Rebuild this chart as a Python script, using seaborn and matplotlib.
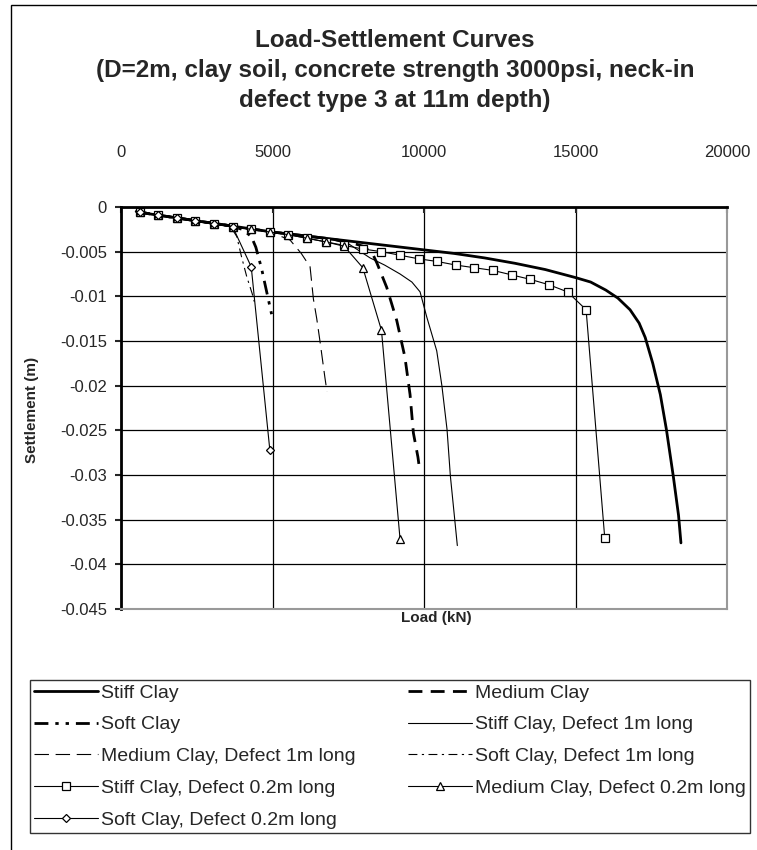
import matplotlib
matplotlib.use('Agg')
import matplotlib.pyplot as plt
import matplotlib.patches as patches
import seaborn as sns

# load steps (kN) and settlements (m)
stiff_x = [500, 1000, 2000, 3000, 4000, 5000, 6000, 7000, 8000, 9000, 10000, 11000, 12000,
           13000, 14000, 15000, 15500, 16000, 16400, 16800, 17100, 17300, 17550, 17800,
           18000, 18230, 18400, 18480]
stiff_y = [-0.0005, -0.0008, -0.0013, -0.0018, -0.0023, -0.0028, -0.0032, -0.0036, -0.0040,
           -0.0044, -0.0048, -0.0052, -0.0057, -0.0063, -0.0070, -0.0079, -0.0084, -0.0093,
           -0.0102, -0.0115, -0.0130, -0.0146, -0.0175, -0.0210, -0.0249, -0.0302, -0.0345,
           -0.0376]

medium_x = [500, 1000, 2000, 3000, 4000, 5000, 6000, 7000, 7600, 8000, 8300, 8450, 8770,
            9100, 9370, 9540, 9650, 9800, 9860]
medium_y = [-0.0005, -0.0008, -0.0013, -0.0018, -0.0023, -0.0028, -0.0032, -0.0036, -0.0040,
            -0.0044, -0.0052, -0.0063, -0.0090, -0.0127, -0.0168, -0.0210, -0.0253, -0.0280,
            -0.0295]

soft_x = [500, 1000, 2000, 3000, 3600, 4000, 4300, 4450, 4640, 4860, 4970]
soft_y = [-0.0005, -0.0008, -0.0013, -0.0018, -0.0021, -0.0025, -0.0033, -0.0045, -0.0069,
          -0.0103, -0.0120]

stiff_1m_x = [500, 1000, 2000, 3000, 4000, 5000, 6000, 7000, 7500, 8220, 8700, 9210, 9600,
              9870, 10090, 10420, 10590, 10760, 10870, 11000, 11100]
stiff_1m_y = [-0.0005, -0.0008, -0.0013, -0.0018, -0.0023, -0.0028, -0.0032, -0.0037, -0.0041,
              -0.0057, -0.0065, -0.0075, -0.0084, -0.0095, -0.0123, -0.0161, -0.0200, -0.0249,
              -0.0301, -0.0345, -0.0379]

medium_1m_x = [500, 1000, 2000, 3000, 4000, 5000, 5580, 5950, 6240, 6350, 6460, 6570, 6730, 6800]
medium_1m_y = [-0.0005, -0.0008, -0.0013, -0.0018, -0.0023, -0.0029, -0.0037, -0.0052, -0.0067,
               -0.0103, -0.0125, -0.0151, -0.0191, -0.0207]

soft_1m_x = [500, 1000, 2000, 3000, 3600, 3820, 3980, 4150, 4330, 4400]
soft_1m_y = [-0.0005, -0.0008, -0.0013, -0.0018, -0.0021, -0.0033, -0.0056, -0.0078, -0.0097,
             -0.0106]

stiff_02_x = [614, 1228, 1842, 2456, 3070, 3684, 4298, 4912, 5526, 6140, 6754, 7368, 7982,
              8596, 9210, 9824, 10438, 11052, 11666, 12280, 12894, 13508, 14122, 14736,
              15350, 15964]
stiff_02_y = [-0.0006, -0.0009, -0.0012, -0.0016, -0.0019, -0.0022, -0.0025, -0.0028, -0.0031,
              -0.0035, -0.0039, -0.0043, -0.0047, -0.0050, -0.0054, -0.0058, -0.0061, -0.0065,
              -0.0068, -0.0071, -0.0076, -0.0081, -0.0087, -0.0095, -0.0115, -0.0370]

medium_02_x = [614, 1228, 1842, 2456, 3070, 3684, 4298, 4912, 5526, 6140, 6754, 7368, 7982,
               8596, 9210]
medium_02_y = [-0.0006, -0.0009, -0.0012, -0.0016, -0.0019, -0.0022, -0.0025, -0.0028, -0.0031,
               -0.0035, -0.0039, -0.0044, -0.0068, -0.0138, -0.0372]

soft_02_x = [614, 1228, 1842, 2456, 3070, 3684, 4298, 4912]
soft_02_y = [-0.0006, -0.0009, -0.0012, -0.0016, -0.0019, -0.0022, -0.0067, -0.0272]

x_ticks = [0, 5000, 10000, 15000, 20000]
y_ticks = [0, -0.005, -0.01, -0.015, -0.02, -0.025, -0.03, -0.035, -0.04, -0.045]
y_labels = ['0', '-0.005', '-0.01', '-0.015', '-0.02', '-0.025', '-0.03', '-0.035', '-0.04', '-0.045']

title = ('Load-Settlement Curves\n(D=2m, clay soil, concrete strength 3000psi, neck-in\n'
         'defect type 3 at 11m depth)')

sns.set_style('white')
plt.rcParams['font.family'] = ['Liberation Sans', 'DejaVu Sans']

fig = plt.figure(figsize=(7.57, 8.5), dpi=100)
ax = fig.add_axes([121 / 757, 1 - 609 / 850, 606 / 757, 402 / 850])

series = [
    ('Stiff Clay', stiff_x, stiff_y, dict(lw=2.0, linestyle='-')),
    ('Medium Clay', medium_x, medium_y, dict(lw=2.0, linestyle=(0, (5, 3)))),
    ('Soft Clay', soft_x, soft_y, dict(lw=2.0, linestyle=(0, (5, 2.5, 1.2, 2.5, 1.2, 2.5)))),
    ('Stiff Clay, Defect 1m long', stiff_1m_x, stiff_1m_y, dict(lw=0.8, linestyle='-')),
    ('Medium Clay, Defect 1m long', medium_1m_x, medium_1m_y, dict(lw=0.8, linestyle=(0, (13, 6)))),
    ('Soft Clay, Defect 1m long', soft_1m_x, soft_1m_y, dict(lw=0.8, linestyle=(0, (8, 4, 2, 4)))),
    ('Stiff Clay, Defect 0.2m long', stiff_02_x, stiff_02_y,
     dict(lw=0.8, linestyle='-', marker='s', markersize=5.5)),
    ('Medium Clay, Defect 0.2m long', medium_02_x, medium_02_y,
     dict(lw=0.8, linestyle='-', marker='^', markersize=6)),
    ('Soft Clay, Defect 0.2m long', soft_02_x, soft_02_y,
     dict(lw=0.8, linestyle='-', marker='D', markersize=4.5)),
]

handles = {}
for name, xs, ys, style in series:
    n_before = len(ax.lines)
    sns.lineplot(x=xs, y=ys, ax=ax, sort=False, estimator=None, color='black',
                 markerfacecolor='white', markeredgecolor='black', markeredgewidth=0.9,
                 label=name, **style)
    handles[name] = ax.lines[n_before]

ax.set_xlim(0, 20000)
ax.set_ylim(-0.045, 0)
ax.set_xticks(x_ticks)
ax.set_xticklabels([str(v) for v in x_ticks])
ax.set_yticks(y_ticks)
ax.set_yticklabels(y_labels)
ax.xaxis.tick_top()
ax.tick_params(axis='x', which='both', top=True, bottom=False, direction='in', length=4,
               width=1.5, pad=34, labelsize=12)
ax.tick_params(axis='y', left=True, direction='out', length=4, width=1.5, pad=6, labelsize=12)
ax.grid(True, color='black', lw=0.9)
ax.set_axisbelow(True)

for side in ['left', 'top']:
    ax.spines[side].set_color('black')
    ax.spines[side].set_linewidth(2.0)
for side in ['right', 'bottom']:
    ax.spines[side].set_color('#999999')
    ax.spines[side].set_linewidth(1.5)

ax.set_xlabel('Load (kN)', fontsize=11, fontweight='bold')
ax.xaxis.set_label_position('bottom')
ax.xaxis.set_label_coords(0.521, -0.006)
ax.set_ylabel('Settlement (m)', fontsize=11, fontweight='bold')
ax.yaxis.set_label_coords(-0.135, 0.494)

fig.text(395 / 757, 1 - 29 / 850, title, ha='center', va='top', fontsize=17.5,
         fontweight='bold', linespacing=1.4)

order = ['Stiff Clay', 'Soft Clay', 'Medium Clay, Defect 1m long', 'Stiff Clay, Defect 0.2m long',
         'Soft Clay, Defect 0.2m long', 'Medium Clay', 'Stiff Clay, Defect 1m long',
         'Soft Clay, Defect 1m long', 'Medium Clay, Defect 0.2m long']
leg = ax.legend([handles[k] for k in order], order, ncol=2, loc='upper left',
                bbox_to_anchor=(30 / 757, 1 - 838 / 850, 720 / 757, 158 / 850),
                bbox_transform=fig.transFigure, mode='expand', borderaxespad=0,
                fontsize=14, frameon=True, fancybox=False, edgecolor='black',
                handlelength=3.3, handletextpad=0.15, labelspacing=0.73,
                borderpad=0.2, columnspacing=1.0)
leg.get_frame().set_linewidth(1.0)

fig.patches.append(patches.Rectangle((11 / 757, -0.05), 1.2, 1 - 5 / 850 + 0.05,
                                     transform=fig.transFigure, fill=False,
                                     edgecolor='black', lw=1.0))

fig.savefig('out.png', dpi=100)
